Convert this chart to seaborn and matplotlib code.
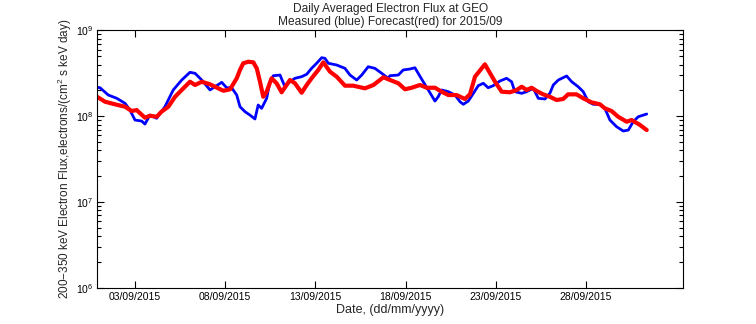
import numpy as np
import pandas as pd
import matplotlib
matplotlib.use("Agg")
import matplotlib.pyplot as plt
import seaborn as sns
from matplotlib.ticker import LogLocator, NullFormatter, FixedLocator

# Day of month (September 2015) and log10 of daily averaged flux
measured_day = [0.91, 1.06, 1.52, 1.99, 2.45, 2.72, 3.00, 3.37, 3.55, 3.83, 4.20, 4.66, 5.12, 5.59,
                6.05, 6.33, 6.70, 7.16, 7.43, 7.81, 8.08, 8.36, 8.64, 8.82, 9.10, 9.37, 9.65, 9.83,
                10.02, 10.30, 10.48, 10.67, 11.04, 11.31, 11.59, 11.87, 12.24, 12.52, 12.79, 13.07,
                13.35, 13.53, 13.72, 14.18, 14.64, 14.92, 15.29, 15.57, 15.93, 16.30, 16.68, 17.04,
                17.13, 17.60, 17.87, 18.24, 18.52, 18.70, 18.98, 19.26, 19.63, 19.81, 20.00, 20.37,
                20.74, 21.02, 21.20, 21.48, 21.76, 22.03, 22.31, 22.58, 22.86, 23.23, 23.60, 23.88,
                24.06, 24.44, 24.71, 25.08, 25.36, 25.73, 26.00, 26.19, 26.47, 26.93, 27.21, 27.57,
                27.85, 28.13, 28.41, 28.78, 29.05, 29.33, 29.70, 30.07, 30.35, 30.62, 30.90, 31.37]
measured_log10 = [8.338, 8.333, 8.248, 8.210, 8.151, 8.073, 7.957, 7.945, 7.910, 8.015, 7.977, 8.112,
                  8.307, 8.423, 8.513, 8.501, 8.423, 8.307, 8.345, 8.396, 8.333, 8.333, 8.248, 8.112,
                  8.054, 8.015, 7.969, 8.132, 8.093, 8.210, 8.403, 8.473, 8.481, 8.345, 8.403, 8.443,
                  8.462, 8.490, 8.559, 8.618, 8.683, 8.676, 8.618, 8.598, 8.559, 8.481, 8.423, 8.481,
                  8.578, 8.559, 8.501, 8.443, 8.473, 8.481, 8.540, 8.551, 8.566, 8.501, 8.403, 8.307,
                  8.178, 8.228, 8.307, 8.287, 8.248, 8.170, 8.140, 8.178, 8.268, 8.357, 8.385, 8.333,
                  8.357, 8.411, 8.443, 8.403, 8.287, 8.268, 8.287, 8.326, 8.210, 8.202, 8.268, 8.365,
                  8.423, 8.470, 8.403, 8.345, 8.287, 8.170, 8.140, 8.140, 8.093, 7.957, 7.879, 7.829,
                  7.840, 7.937, 7.995, 8.027]

forecast_day = [0.92, 1.34, 1.89, 2.45, 2.82, 3.09, 3.55, 3.83, 4.20, 4.47, 4.85, 5.22, 5.68, 6.05,
                6.33, 6.70, 7.16, 7.62, 7.90, 8.27, 8.64, 8.82, 9.00, 9.28, 9.56, 9.75, 9.93, 10.11,
                10.30, 10.57, 10.85, 11.13, 11.59, 11.87, 12.24, 12.52, 12.79, 13.16, 13.44, 13.81,
                14.18, 14.64, 15.10, 15.75, 16.22, 16.77, 17.14, 17.60, 17.97, 18.34, 18.80, 19.17,
                19.63, 20.00, 20.37, 20.83, 21.29, 21.57, 21.85, 22.22, 22.40, 22.58, 22.96, 23.33,
                23.79, 24.16, 24.44, 24.71, 24.99, 25.27, 25.63, 26.00, 26.37, 26.74, 27.01, 27.48,
                27.85, 28.31, 28.78, 29.05, 29.42, 29.79, 30.26, 30.53, 31.00, 31.37]
forecast_log10 = [8.225, 8.170, 8.140, 8.112, 8.062, 8.073, 7.984, 8.007, 7.995, 8.054, 8.112, 8.228,
                  8.326, 8.403, 8.365, 8.403, 8.373, 8.326, 8.298, 8.315, 8.443, 8.540, 8.618, 8.636,
                  8.629, 8.559, 8.403, 8.228, 8.287, 8.443, 8.385, 8.280, 8.423, 8.385, 8.275, 8.365,
                  8.443, 8.540, 8.629, 8.520, 8.462, 8.357, 8.357, 8.326, 8.365, 8.455, 8.423, 8.385,
                  8.315, 8.333, 8.365, 8.333, 8.333, 8.287, 8.248, 8.248, 8.202, 8.256, 8.462, 8.559,
                  8.606, 8.540, 8.403, 8.287, 8.280, 8.307, 8.345, 8.307, 8.333, 8.295, 8.256, 8.228,
                  8.190, 8.202, 8.256, 8.256, 8.210, 8.163, 8.140, 8.093, 8.062, 7.995, 7.937, 7.957,
                  7.899, 7.840]

tick_days = [3, 8, 13, 18, 23, 28]
tick_labels = ["03/09/2015", "08/09/2015", "13/09/2015", "18/09/2015", "23/09/2015", "28/09/2015"]

sns.set_style("ticks")
plt.rcParams["font.family"] = ["Liberation Sans", "DejaVu Sans"]
plt.rcParams["mathtext.fontset"] = "custom"
plt.rcParams["mathtext.rm"] = "Liberation Sans"

meas = pd.DataFrame({"day": measured_day, "flux": 10 ** np.array(measured_log10)})
fc = pd.DataFrame({"day": forecast_day, "flux": 10 ** np.array(forecast_log10)})

fig = plt.figure(figsize=(7.56, 3.24), dpi=100)
ax = fig.add_axes([0.1287, 0.1111, 0.9034 - 0.1287, 0.9059 - 0.1111])

sns.lineplot(data=meas, x="day", y="flux", ax=ax, color="#0000ff", linewidth=2.0,
             sort=False, estimator=None)
sns.lineplot(data=fc, x="day", y="flux", ax=ax, color="#ff0000", linewidth=3.0,
             sort=False, estimator=None)

ax.set_yscale("log")
ax.set_ylim(1e6, 1e9)
ax.set_xlim(0.91, 33.38)
ax.xaxis.set_major_locator(FixedLocator(tick_days))
ax.set_xticklabels(tick_labels)
ax.yaxis.set_major_locator(LogLocator(base=10, numticks=10))
ax.yaxis.set_minor_locator(LogLocator(base=10, subs=np.arange(2, 10), numticks=20))
ax.yaxis.set_minor_formatter(NullFormatter())

ax.tick_params(axis="both", which="both", direction="in", top=True, right=True,
               labelsize=7.5, colors="black")
ax.tick_params(axis="both", which="major", length=5, width=0.8, pad=3)
ax.tick_params(axis="y", which="minor", length=3, width=0.8)
for s in ax.spines.values():
    s.set_color("black")
    s.set_linewidth(0.8)

ax.set_xlabel("Date, (dd/mm/yyyy)", fontsize=9, labelpad=1)
ax.set_ylabel("200\u2212350 keV Electron Flux,electrons/(cm$^2$ s keV day)", fontsize=8.5, labelpad=1)
ax.set_title("Daily Averaged Electron Flux at GEO\nMeasured (blue) Forecast(red) for 2015/09",
             fontsize=8.6, pad=4, linespacing=1.1)

fig.savefig("out.png", dpi=100, facecolor="white")
